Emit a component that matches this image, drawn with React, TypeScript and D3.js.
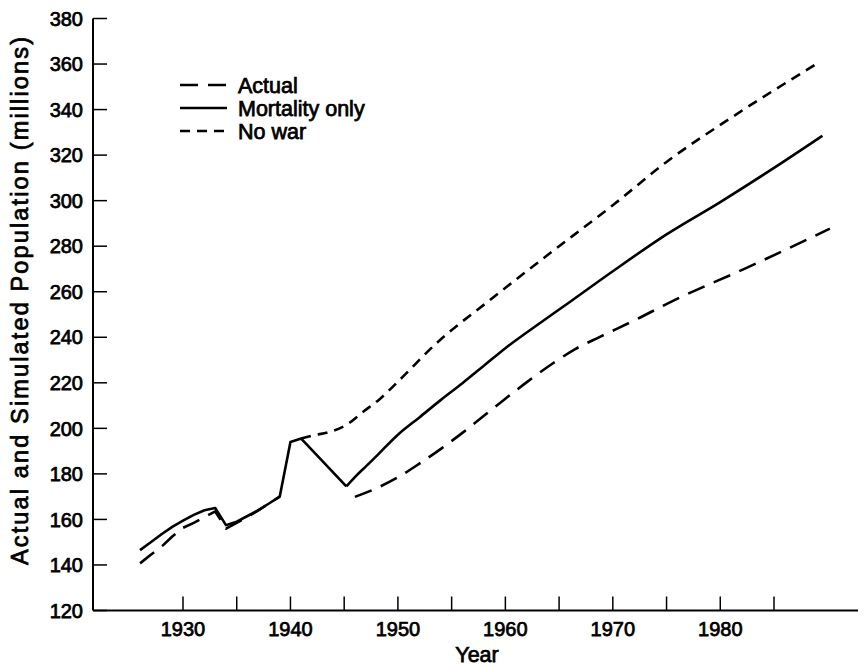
import React from "react";
import * as d3 from "d3";

// ---- data ----
const mortalityYears = [1926, 1927, 1928, 1929, 1930, 1931, 1932, 1933, 1934, 1935, 1936, 1937, 1938, 1939, 1940, 1941, 1945.2, 1946, 1947, 1948, 1950, 1952, 1954, 1956, 1958, 1960, 1963, 1966, 1970, 1975, 1980, 1985, 1989.5];
const mortalityValues = [146.5, 150, 153.5, 156.7, 159.5, 162, 164, 165, 157.5, 159, 161.5, 164, 167, 170, 194, 195.5, 174.5, 178.6, 183.2, 187.8, 197.2, 204.8, 212.5, 219.8, 227.5, 235.2, 245.5, 255.5, 269, 285.2, 299.4, 314.4, 328.5];
const mortalityWarEndIndex = 16; // 1945.2 trough: straight segments before, smooth curve after

const actualYears1 = [1926, 1927, 1928, 1929, 1930, 1931, 1932, 1933, 1934, 1935, 1936, 1937, 1938, 1939];
const actualValues1 = [140.7, 144.5, 148, 152.5, 156.3, 158.5, 161, 163.5, 156, 158.5, 161, 164, 167, 170];
const actualYears2 = [1946, 1948, 1950, 1952, 1954, 1956, 1958, 1960, 1962, 1964.5, 1966.5, 1968.8, 1972, 1975.6, 1982.5, 1990.2];
const actualValues2 = [169.9, 173.7, 178.5, 184.5, 191, 198, 205.5, 213, 220.3, 228.8, 234.8, 240.2, 247.4, 256, 270.6, 287.7];

const noWarYears = [1941, 1942, 1943.7, 1945.2, 1946.8, 1948.3, 1950, 1953.5, 1958.6, 1963.9, 1970, 1975, 1981.2, 1989];
const noWarValues = [195.5, 196.8, 198.5, 201.5, 207.4, 212.8, 220.5, 237, 256.5, 276, 298, 317, 337, 360.2];

const yTicks = [120, 140, 160, 180, 200, 220, 240, 260, 280, 300, 320, 340, 360, 380];
const xTickYears = [1930, 1935, 1940, 1945, 1950, 1955, 1960, 1965, 1970, 1975, 1980, 1985];
const xLabelYears = [1930, 1940, 1950, 1960, 1970, 1980];

const legendLabels = ["Actual", "Mortality only", "No war"];
const legendDashes = ["18 10", "", "10 7"];

const W = 865;
const H = 667;
const FONT = "'Liberation Sans', Arial, Helvetica, sans-serif";

export default function App() {
  const x = d3.scaleLinear().domain([1930, 1985]).range([183, 774]);
  const y = d3.scaleLinear().domain([120, 380]).range([610.5, 18.5]);
  const axisX0 = 93;
  const axisX1 = 858;
  const yBottom = y(120);

  const straight = d3
    .line<[number, number]>()
    .x((d) => x(d[0]))
    .y((d) => y(d[1]))
    .curve(d3.curveLinear);
  const smooth = d3
    .line<[number, number]>()
    .x((d) => x(d[0]))
    .y((d) => y(d[1]))
    .curve(d3.curveMonotoneX);

  const zip = (a: number[], b: number[]) => a.map((v, i) => [v, b[i]] as [number, number]);
  const mort = zip(mortalityYears, mortalityValues);

  const series = [
    { d: straight(zip(actualYears1, actualValues1)), dash: "18 10" },
    { d: smooth(zip(actualYears2, actualValues2)), dash: "18 10" },
    { d: smooth(zip(noWarYears, noWarValues)), dash: "10 7" },
    { d: straight(mort.slice(0, mortalityWarEndIndex + 1)), dash: "" },
    { d: smooth(mort.slice(mortalityWarEndIndex)), dash: "" },
  ];

  const textStyle = { fontFamily: FONT, fontSize: 20, fill: "#000", stroke: "#000", strokeWidth: 0.75 } as const;

  return (
    <svg width={W} height={H} style={{ position: "absolute", left: 0, top: 0, background: "#fff" }}>
      <rect x={0} y={0} width={W} height={H} fill="#fff" />
      {/* axes */}
      <line x1={axisX0} x2={axisX0} y1={y(380)} y2={yBottom} stroke="#000" strokeWidth={2} />
      <line x1={axisX0} x2={axisX1} y1={yBottom} y2={yBottom} stroke="#000" strokeWidth={2} />
      {yTicks.map((t) => (
        <g key={t}>
          <line x1={axisX0} x2={axisX0 + 14} y1={y(t)} y2={y(t)} stroke="#000" strokeWidth={1.5} />
          <text x={83} y={y(t)} dy="0.36em" textAnchor="end" style={textStyle}>
            {t}
          </text>
        </g>
      ))}
      {xTickYears.map((t) => (
        <line key={t} x1={x(t)} x2={x(t)} y1={yBottom} y2={yBottom - 14} stroke="#000" strokeWidth={1.5} />
      ))}
      {xLabelYears.map((t) => (
        <text key={t} x={x(t)} y={636} textAnchor="middle" style={textStyle}>
          {t}
        </text>
      ))}
      <text x={477} y={662} textAnchor="middle" style={{ ...textStyle, fontSize: 21.5 }}>
        Year
      </text>
      <text
        transform={`translate(28, 301) rotate(-90)`}
        textAnchor="middle"
        textLength={528}
        lengthAdjust="spacing"
        style={{ ...textStyle, fontSize: 23.5 }}
      >
        Actual and Simulated Population (millions)
      </text>
      {/* series */}
      {series.map((s, i) => (
        <path
          key={i}
          d={s.d || ""}
          fill="none"
          stroke="#000"
          strokeWidth={2.6}
          strokeDasharray={s.dash || undefined}
          strokeLinejoin="round"
        />
      ))}
      {/* legend */}
      {legendLabels.map((label, i) => {
        const ly = [85, 108, 131][i];
        const dash = legendDashes[i];
        return (
          <g key={label}>
            <line x1={180} x2={227} y1={ly} y2={ly} stroke="#000" strokeWidth={2.4} strokeDasharray={dash || undefined} />
            <text x={238} y={ly} dy="0.36em" style={{ ...textStyle, fontSize: 21.5 }}>
              {label}
            </text>
          </g>
        );
      })}
    </svg>
  );
}
